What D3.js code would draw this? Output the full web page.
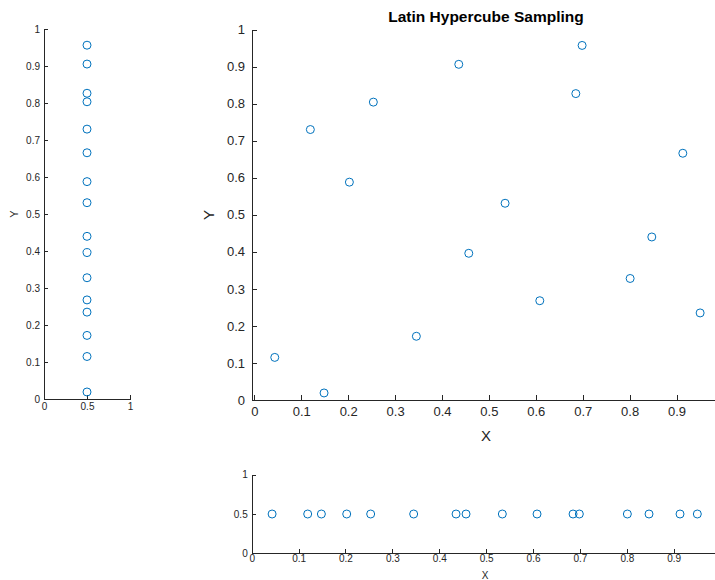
<!DOCTYPE html>
<html>
<head>
<meta charset="utf-8">
<script src="https://cdn.jsdelivr.net/npm/d3@7"></script>
<style>
  body { margin: 0; background: #fff; }
  svg { display: block; font-family: "Liberation Sans", Arial, Helvetica, sans-serif; }
  .axis path, .axis line { stroke: #262626; stroke-width: 1; shape-rendering: crispEdges; }
  .axis text { fill: #262626; }
</style>
</head>
<body>
<svg id="chart" width="715" height="580"></svg>
<script>
// sample points
var xValues = [0.0435, 0.1486, 0.1194, 0.2026, 0.2537, 0.3454, 0.4358, 0.4571,
               0.5345, 0.6085, 0.6853, 0.6987, 0.8011, 0.8473, 0.9134, 0.9503];
var yValues = [0.115, 0.019, 0.730, 0.588, 0.804, 0.172, 0.906, 0.396,
               0.531, 0.268, 0.827, 0.957, 0.328, 0.440, 0.666, 0.235];
var tenthTicks = [0, 0.1, 0.2, 0.3, 0.4, 0.5, 0.6, 0.7, 0.8, 0.9, 1];
var mainXTicks = [0, 0.1, 0.2, 0.3, 0.4, 0.5, 0.6, 0.7, 0.8, 0.9];
var halfTicks = [0, 0.5, 1];

var points = xValues.map(function(d, i) { return {x: d, y: yValues[i]}; });
var svg = d3.select("#chart");
var blue = "#0072BD";
var fmt = function(d) { return d3.format("")(+d.toFixed(2)); };

// helper: draw circles
function drawMarks(g, data, fx, fy) {
  g.append("g").selectAll("circle")
    .data(data)
    .enter().append("circle")
      .attr("cx", fx)
      .attr("cy", fy)
      .attr("r", 4)
      .attr("fill", "none")
      .attr("stroke", blue)
      .attr("stroke-width", 1);
}

// ---------- main scatter ----------
var mx = d3.scaleLinear().domain([-0.005, 0.982]).range([252, 715]),
    my = d3.scaleLinear().domain([0, 1]).range([400, 29.5]);

svg.append("g")
  .attr("class", "axis")
  .attr("transform", "translate(0,400)")
  .call(d3.axisBottom(mx).tickValues(mainXTicks).tickFormat(fmt).tickSizeInner(-5).tickSizeOuter(0).tickPadding(7))
  .call(function(g) { g.selectAll("text").style("font-size", "13px"); });

svg.append("g")
  .attr("class", "axis")
  .attr("transform", "translate(252,0)")
  .call(d3.axisLeft(my).tickValues(tenthTicks).tickFormat(fmt).tickSizeInner(-5).tickSizeOuter(0).tickPadding(7))
  .call(function(g) { g.selectAll("text").style("font-size", "13px"); });

drawMarks(svg, points, function(d) { return mx(d.x); }, function(d) { return my(d.y); });

svg.append("text")
  .attr("x", 486).attr("y", 22)
  .attr("text-anchor", "middle")
  .style("font-size", "15.5px").style("font-weight", "bold")
  .attr("fill", "#000")
  .text("Latin Hypercube Sampling");

svg.append("text")
  .attr("x", 486).attr("y", 441)
  .attr("text-anchor", "middle")
  .style("font-size", "15px").attr("fill", "#262626")
  .text("X");

svg.append("text")
  .attr("transform", "translate(214,215) rotate(-90)")
  .attr("text-anchor", "middle")
  .style("font-size", "15px").attr("fill", "#262626")
  .text("Y");

// ---------- left marginal (Y) ----------
var lx = d3.scaleLinear().domain([0, 1]).range([44, 130]),
    ly = d3.scaleLinear().domain([0, 1]).range([399, 29.3]);

svg.append("g")
  .attr("class", "axis")
  .attr("transform", "translate(0,399)")
  .call(d3.axisBottom(lx).tickValues(halfTicks).tickFormat(fmt).tickSizeInner(-4).tickSizeOuter(0).tickPadding(4))
  .call(function(g) { g.selectAll("text").style("font-size", "10px"); });

svg.append("g")
  .attr("class", "axis")
  .attr("transform", "translate(44,0)")
  .call(d3.axisLeft(ly).tickValues(tenthTicks).tickFormat(fmt).tickSizeInner(-4).tickSizeOuter(0).tickPadding(4))
  .call(function(g) { g.selectAll("text").style("font-size", "10px"); });

drawMarks(svg, yValues, function() { return lx(0.5); }, function(d) { return ly(d); });

svg.append("text")
  .attr("transform", "translate(18,214) rotate(-90)")
  .attr("text-anchor", "middle")
  .style("font-size", "11px").attr("fill", "#262626")
  .text("Y");

// ---------- bottom marginal (X) ----------
var bx = d3.scaleLinear().domain([0, 0.988]).range([251.7, 715]),
    by = d3.scaleLinear().domain([0, 1]).range([553.3, 474.7]);

svg.append("g")
  .attr("class", "axis")
  .attr("transform", "translate(0,553.3)")
  .call(d3.axisBottom(bx).tickValues(mainXTicks).tickFormat(fmt).tickSizeInner(-4).tickSizeOuter(0).tickPadding(2))
  .call(function(g) { g.selectAll("text").style("font-size", "10px"); });

svg.append("g")
  .attr("class", "axis")
  .attr("transform", "translate(251.7,0)")
  .call(d3.axisLeft(by).tickValues(halfTicks).tickFormat(fmt).tickSizeInner(-4).tickSizeOuter(0).tickPadding(4))
  .call(function(g) { g.selectAll("text").style("font-size", "10px"); });

drawMarks(svg, xValues, function(d) { return bx(d); }, function() { return by(0.5); });

svg.append("text")
  .attr("x", 485).attr("y", 579)
  .attr("text-anchor", "middle")
  .style("font-size", "10px").attr("fill", "#262626")
  .text("X");
</script>
</body>
</html>
